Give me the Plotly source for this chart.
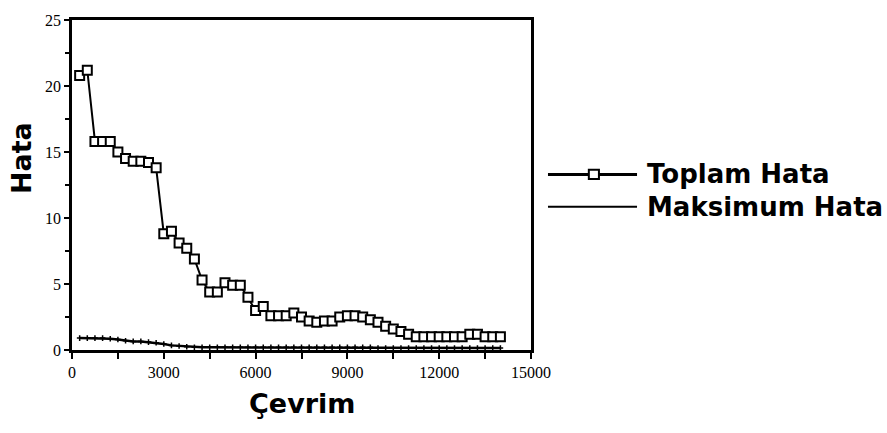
import plotly.graph_objects as go

cycles = [250 * i for i in range(1, 57)]
toplam_hata = [20.8, 21.2, 15.8, 15.8, 15.8, 15.0, 14.5, 14.3, 14.3, 14.2, 13.8,
               8.8, 9.0, 8.1, 7.7, 6.9, 5.3, 4.4, 4.4, 5.1, 4.9, 4.9, 4.0,
               3.0, 3.3, 2.6, 2.6, 2.6, 2.8, 2.5, 2.2, 2.1, 2.2, 2.2, 2.5,
               2.6, 2.6, 2.5, 2.3, 2.1, 1.8, 1.6, 1.4, 1.2, 1.0, 1.0, 1.0,
               1.0, 1.0, 1.0, 1.0, 1.2, 1.2, 1.0, 1.0, 1.0]
maksimum_hata = [0.9, 0.9, 0.9, 0.9, 0.85, 0.8, 0.7, 0.65, 0.65, 0.6, 0.55,
                 0.45, 0.35, 0.3, 0.25, 0.2, 0.2, 0.2, 0.2, 0.2, 0.2, 0.2, 0.2,
                 0.2, 0.2, 0.2, 0.2, 0.2, 0.2, 0.2, 0.2, 0.2, 0.2, 0.2, 0.2,
                 0.2, 0.2, 0.2, 0.2, 0.15, 0.15, 0.15, 0.15, 0.15, 0.15, 0.15, 0.15,
                 0.15, 0.15, 0.15, 0.15, 0.15, 0.15, 0.15, 0.15, 0.15]
series_names = ["Toplam Hata", "Maksimum Hata"]
x_ticks = [0, 3000, 6000, 9000, 12000, 15000]
y_ticks = [0, 5, 10, 15, 20, 25]

fig = go.Figure()
fig.add_trace(go.Scatter(
    x=cycles, y=maksimum_hata, mode="lines+markers", name=series_names[1],
    line=dict(color="black", width=2.5),
    marker=dict(symbol="cross-thin", size=4, line=dict(color="black", width=1.5)),
    showlegend=False))
fig.add_trace(go.Scatter(
    x=cycles, y=toplam_hata, mode="lines+markers", name=series_names[0],
    line=dict(color="black", width=2),
    marker=dict(symbol="square", size=9, color="white", line=dict(color="black", width=2)),
    showlegend=False))

tickfont = dict(family="Liberation Serif", size=16, color="black")
fig.update_xaxes(range=[0, 15000], tickvals=x_ticks, ticktext=[str(v) for v in x_ticks],
                 ticks="outside", ticklen=6, tickwidth=2, tickcolor="black",
                 minor=dict(dtick=1500, ticks="outside", ticklen=6, tickwidth=2, tickcolor="black"),
                 showline=True, linewidth=2.5, linecolor="black", mirror=True,
                 showgrid=False, zeroline=False, tickfont=tickfont)
fig.update_yaxes(range=[0, 25], tickvals=y_ticks, ticktext=[str(v) for v in y_ticks],
                 ticks="outside", ticklen=5, tickwidth=2, tickcolor="black",
                 minor=dict(dtick=2.5, ticks="outside", ticklen=4, tickwidth=2, tickcolor="black"),
                 showline=True, linewidth=2.5, linecolor="black", mirror=True,
                 showgrid=False, zeroline=False, tickfont=tickfont)

title_font = dict(family="DejaVu Sans", size=27, color="black")
annotations = [
    dict(text="<b>Hata</b>", x=-0.11, y=0.58, xref="paper", yref="paper",
         textangle=-90, showarrow=False, font=title_font, xanchor="center", yanchor="middle"),
    dict(text="<b>Çevrim</b>", x=0.5, y=-0.163, xref="paper", yref="paper",
         showarrow=False, font=title_font, xanchor="center", yanchor="middle"),
]
shapes = []
legend_y = [0.532, 0.434]
lx0, lx1, lmid = 1.037, 1.231, 1.137
for i, name in enumerate(series_names):
    annotations.append(dict(text="<b>%s</b>" % name, x=1.248, y=legend_y[i], xref="paper", yref="paper",
                            showarrow=False, font=dict(family="DejaVu Sans", size=26, color="black"),
                            xanchor="left", yanchor="middle"))
    shapes.append(dict(type="line", xref="paper", yref="paper", x0=lx0, x1=lx1,
                       y0=legend_y[i], y1=legend_y[i], line=dict(color="black", width=3 if i == 0 else 2)))
shapes.append(dict(type="rect", xref="paper", yref="paper",
                   x0=lmid - 0.011, x1=lmid + 0.011, y0=legend_y[0] - 0.014, y1=legend_y[0] + 0.014,
                   line=dict(color="black", width=2), fillcolor="white"))

fig.update_layout(width=887, height=433, margin=dict(l=72, r=356, t=14, b=83),
                  plot_bgcolor="white", paper_bgcolor="white",
                  annotations=annotations, shapes=shapes)
fig.write_html("out.html")
